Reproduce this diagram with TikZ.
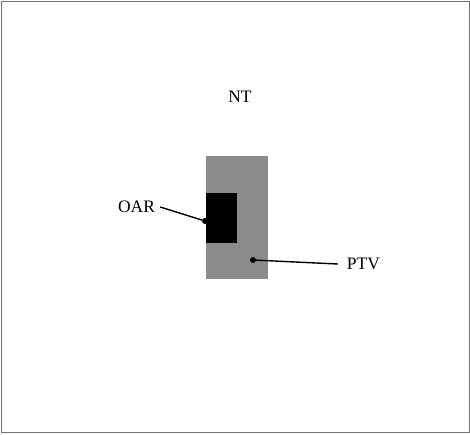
\documentclass[tikz,border=0pt]{standalone}
\usepackage{fontspec}
\setmainfont{Liberation Serif}
\tikzset{
  lbl/.style={font=\fontsize{17.5}{20}\selectfont,inner sep=5pt},
  dot/.style={circle,fill=black,inner sep=0pt,minimum size=6pt},
  leader/.style={line width=1.4pt}
}
\begin{document}
\begin{tikzpicture}[x=1pt,y=-1pt]
\useasboundingbox (0,0) rectangle (470,434);
% body outline
\draw[line width=1pt,black!55](1,1) rectangle (469,432.5);
% target and organ at risk
\fill[black!45](206,156) rectangle (268,279);
\fill[black](206,193) rectangle (237,242.5);
\node[lbl] (nt) at (240,97){NT};
\node[lbl] (oar) at (136.5,207){OAR};
\node[lbl,inner xsep=9pt] (ptv) at (363.5,264){PTV};
\node[dot] (oardot) at (205,221){};
\node[dot] (ptvdot) at (253,260){};
\draw[leader](oar.east)--(oardot.center);
\draw[leader](ptvdot.center)--(ptv.west);
\end{tikzpicture}
\end{document}
